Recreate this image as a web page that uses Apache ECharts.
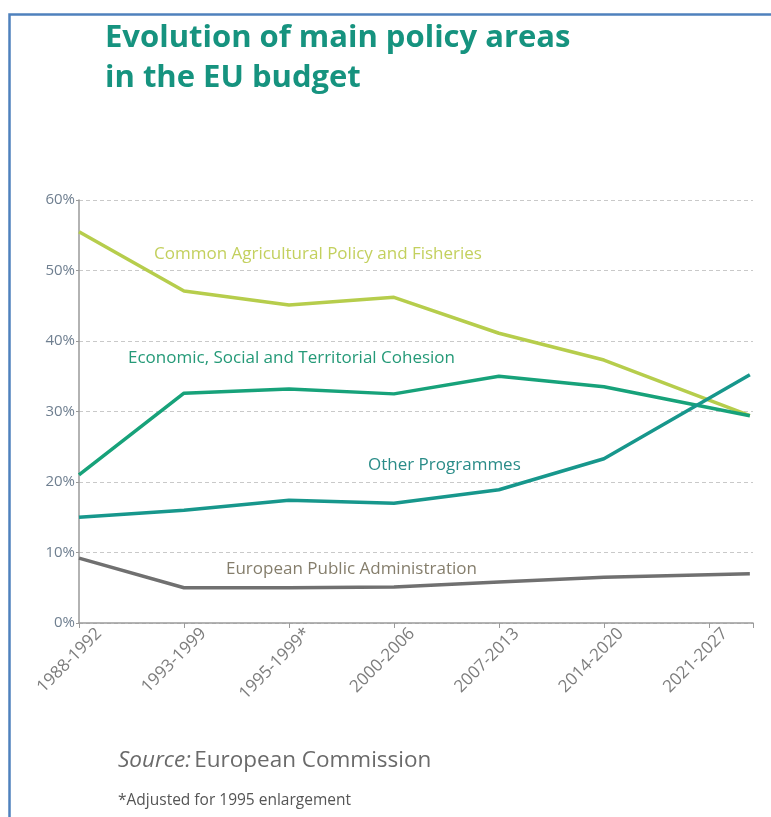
<!DOCTYPE html>
<html>
<head>
<meta charset="utf-8">
<script src="https://cdn.jsdelivr.net/npm/echarts@6/dist/echarts.min.js"></script>
<style>
html,body{margin:0;padding:0;background:#fff;}
#chart{width:771px;height:817px;}
</style>
</head>
<body>
<div id="chart"></div>
<script>
// ---- data ----
var periods = ['1988-1992','1993-1999','1995-1999*','2000-2006','2007-2013','2014-2020','2021-2027'];
// horizontal position of each data point along the period axis (last point drawn past its tick, as in the original)
var periodPos = [0, 1, 2, 3, 4, 5, 6.39];
var cap      = [55.5, 47.1, 45.1, 46.2, 41.1, 37.3, 29.4];
var cohesion = [21.0, 32.6, 33.2, 32.5, 35.0, 33.5, 29.4];
var other    = [15.0, 16.0, 17.4, 17.0, 18.9, 23.3, 35.2];
var admin    = [9.2, 5.0, 5.0, 5.1, 5.8, 6.5, 7.0];
var yTicks   = ['0%','10%','20%','30%','40%','50%','60%'];
var seriesNames = ['Common Agricultural Policy and Fisheries','Economic, Social and Territorial Cohesion','Other Programmes','European Public Administration'];

function pairs(vals){ return vals.map(function(v,i){ return [periodPos[i], v]; }); }

var FONT = '"Open Sans", "DejaVu Sans", sans-serif';
var xMax = 6.42;

var chart = echarts.init(document.getElementById('chart'), null, {renderer:'canvas'});
var option = {
  animation:false,
  backgroundColor:'#ffffff',
  grid:[
    {left:79, top:200, width:674, height:423, containLabel:false},
    {left:99, top:200, width:674, height:423, containLabel:false}
  ],
  xAxis:[
    {type:'value', gridIndex:0, min:0, max:xMax, interval:1,
     axisLine:{show:true, lineStyle:{color:'#9a9a9a', width:1.5}},
     axisTick:{show:true, length:5, lineStyle:{color:'#9a9a9a'}},
     axisLabel:{show:false},
     splitLine:{show:false}},
    {type:'value', gridIndex:1, min:0, max:xMax, interval:1,
     axisLine:{show:false}, axisTick:{show:false}, splitLine:{show:false},
     axisLabel:{show:true, rotate:45, margin:8, color:'#7d7d7d', fontFamily:FONT, fontSize:17,
       formatter:function(v){ var i=Math.round(v); return (Math.abs(v-i)<1e-6 && periods[i]) ? periods[i] : ''; }}}
  ],
  yAxis:[
    {type:'value', gridIndex:0, min:0, max:60, interval:10,
     axisLine:{show:true, lineStyle:{color:'#9a9a9a', width:1.5}},
     axisTick:{show:true, length:3, lineStyle:{color:'#9a9a9a'}},
     axisLabel:{margin:4, color:'#6f7f90', fontFamily:FONT, fontSize:15,
       formatter:function(v){ return yTicks[Math.round(v/10)]; }},
     splitLine:{show:true, lineStyle:{color:'#c9c9c9', type:[4,3], width:1}}},
    {type:'value', gridIndex:1, min:0, max:60, show:false}
  ],
  series:[
    {name:seriesNames[0], type:'line', xAxisIndex:0, yAxisIndex:0, data:pairs(cap), symbol:'none',
     lineStyle:{color:'#b6cd4c', width:3.5}, z:3},
    {name:seriesNames[1], type:'line', xAxisIndex:0, yAxisIndex:0, data:pairs(cohesion), symbol:'none',
     lineStyle:{color:'#17a27a', width:3.5}, z:4},
    {name:seriesNames[2], type:'line', xAxisIndex:0, yAxisIndex:0, data:pairs(other), symbol:'none',
     lineStyle:{color:'#17978c', width:3.5}, z:5},
    {name:seriesNames[3], type:'line', xAxisIndex:0, yAxisIndex:0, data:pairs(admin), symbol:'none',
     lineStyle:{color:'#707070', width:3.5}, z:3}
  ],
  graphic:[
    {type:'rect', left:7, top:12, shape:{x:0,y:0,width:800,height:900}, style:{fill:'none', stroke:'#4f81bd', lineWidth:2.5}, silent:true},
    {type:'text', left:105, top:23, style:{text:'Evolution of main policy areas', font:'700 31px '+FONT, fill:'#16937f'}},
    {type:'text', left:105, top:63, style:{text:'in the EU budget', font:'700 31px '+FONT, fill:'#16937f'}},
    {type:'text', left:154, top:246, style:{text:seriesNames[0], font:'17px '+FONT, fill:'#c3d05e'}},
    {type:'text', left:128, top:350, style:{text:seriesNames[1], font:'17px '+FONT, fill:'#259a78'}},
    {type:'text', left:368, top:457, style:{text:seriesNames[2], font:'17px '+FONT, fill:'#2a8c88'}},
    {type:'text', left:226, top:561, style:{text:seriesNames[3], font:'17px '+FONT, fill:'#857e6c'}},
    {type:'text', left:118, top:749, style:{text:'{i|Source:} {n|European Commission}', fill:'#666666',
      rich:{i:{fontFamily:FONT, fontStyle:'italic', fontSize:22.5, fill:'#6a6a6a'}, n:{fontFamily:FONT, fontSize:22.5, fill:'#6a6a6a'}}}},
    {type:'text', left:118, top:793, style:{text:'*Adjusted for 1995 enlargement', font:'15.5px '+FONT, fill:'#555555'}}
  ]
};
chart.setOption(option);
</script>
</body>
</html>
